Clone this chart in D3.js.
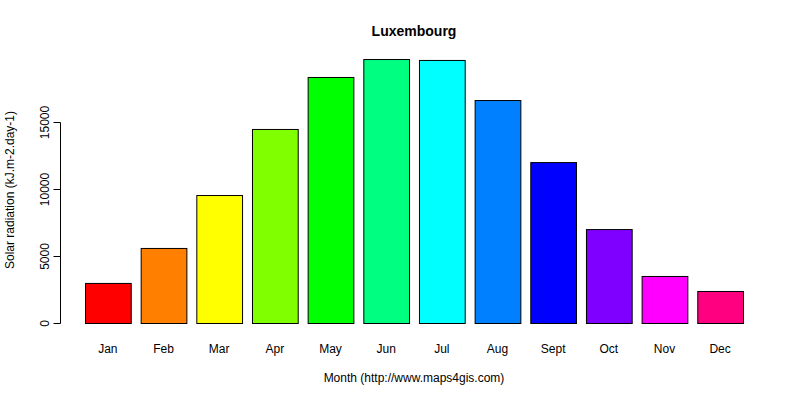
<!DOCTYPE html>
<html><head><meta charset="utf-8">
<script src="https://cdn.jsdelivr.net/npm/d3@7"></script>
<style>body{margin:0;background:#fff}text{font-family:"Liberation Sans",Arial,sans-serif}</style>
</head><body><div id="chart"></div>
<script>
const months = ["Jan","Feb","Mar","Apr","May","Jun","Jul","Aug","Sept","Oct","Nov","Dec"];
const radiation = [2990, 5600, 9550, 14480, 18360, 19700, 19630, 16640, 12010, 7010, 3510, 2390];
const colors = ["#FF0000","#FF8000","#FFFF00","#80FF00","#00FF00","#00FF80","#00FFFF","#0080FF","#0000FF","#8000FF","#FF00FF","#FF0080"];
const yTicks = [0, 5000, 10000, 15000];

const svg = d3.select("#chart").append("svg").attr("width", 800).attr("height", 400);

const x = d3.scaleBand().domain(months).range([85, 743]).paddingInner(10 / 56).paddingOuter(0);
const y = d3.scaleLinear().domain([0, 15000]).range([323, 122]);

svg.append("g").selectAll("rect").data(radiation).join("rect")
  .attr("x", (d, i) => x(months[i]) + 0.5)
  .attr("y", d => y(d) + 0.5)
  .attr("width", x.bandwidth())
  .attr("height", d => y(0) - y(d))
  .attr("fill", (d, i) => colors[i])
  .attr("stroke", "#000");

// y axis
const ya = svg.append("g").attr("transform", "translate(60.5,0.5)");
ya.append("line").attr("y1", y(0)).attr("y2", y(15000)).attr("stroke", "#000");
ya.selectAll("line.t").data(yTicks).join("line").attr("class", "t")
  .attr("x1", -7).attr("x2", 0).attr("y1", y).attr("y2", y).attr("stroke", "#000");
ya.selectAll("text").data(yTicks).join("text")
  .attr("transform", d => `translate(-12,${y(d)}) rotate(-90)`)
  .attr("text-anchor", "middle").attr("font-size", 12).text(d => d);

svg.append("g").selectAll("text").data(months).join("text")
  .attr("x", d => x(d) + x.bandwidth() / 2).attr("y", 353)
  .attr("text-anchor", "middle").attr("font-size", 12).text(d => d);

svg.append("text").attr("x", 414).attr("y", 36).attr("text-anchor", "middle")
  .attr("font-size", 14).attr("font-weight", "bold").text("Luxembourg");
svg.append("text").attr("x", 414).attr("y", 382).attr("text-anchor", "middle")
  .attr("font-size", 12).text("Month (http://www.maps4gis.com)");
svg.append("text").attr("transform", "translate(14,190) rotate(-90)").attr("text-anchor", "middle")
  .attr("font-size", 12).text("Solar radiation (kJ.m-2.day-1)");
</script></body></html>
